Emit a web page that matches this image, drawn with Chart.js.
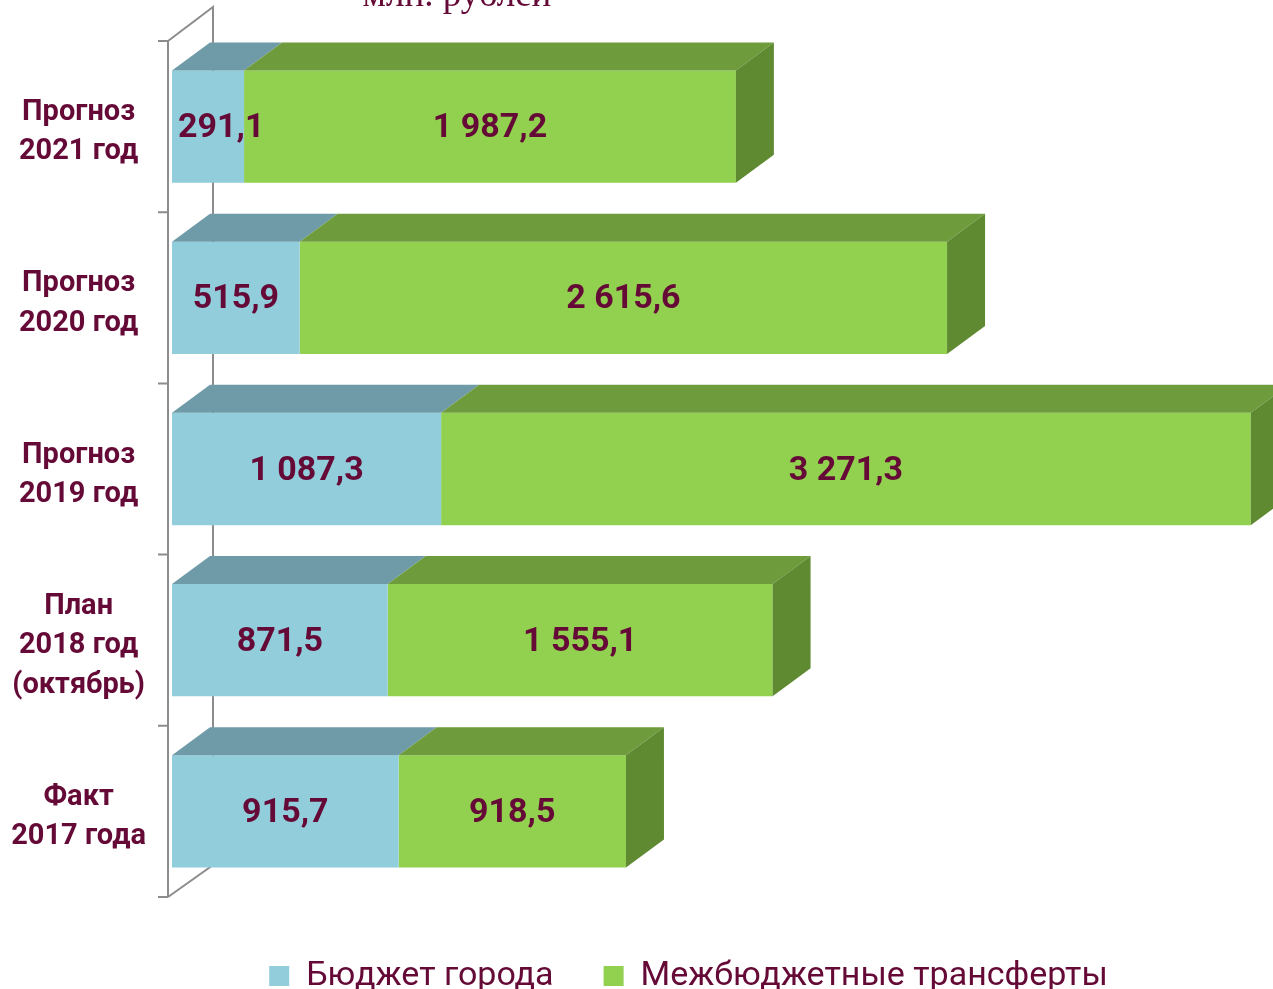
<!DOCTYPE html>
<html lang="ru">
<head>
  <meta charset="UTF-8" />
  <title>Бюджет города и межбюджетные трансферты</title>
  <script src="https://cdn.jsdelivr.net/npm/chart.js"></script>
  <style>
    html, body { margin: 0; padding: 0; background: #fff; }
    #wrap { width: 1273px; height: 989px; position: relative; }
  </style>
</head>
<body>
  <div id="wrap"><canvas id="chart"></canvas></div>

  <script>
    const categories = [
      ['Прогноз', '2021 год'],
      ['Прогноз', '2020 год'],
      ['Прогноз', '2019 год'],
      ['План', '2018 год', '(октябрь)'],
      ['Факт', '2017 года']
    ];
    const cityBudget = [291.1, 515.9, 1087.3, 871.5, 915.7];
    const transfers = [1987.2, 2615.6, 3271.3, 1555.1, 918.5];
    const seriesNames = ['Бюджет города', 'Межбюджетные трансферты'];
    const unitLabel = 'млн. рублей';

    const maroon = '#650a36';
    const front = ['#92cddc', '#92d050'];
    const topFace = ['#6f9ba8', '#6e9c3c'];
    const sideFace = '#5f8a32';
    const depthX = 38, depthY = 28;

    function fmt(v) {
      const parts = v.toFixed(1).split('.');
      const int = parts[0].replace(/\B(?=(\d{3})+(?!\d))/g, ' ');
      return int + ',' + parts[1];
    }

    // walls, 3d faces, labels
    const bars3d = {
      id: 'bars3d',
      afterLayout(chart) {
        chart.legend.left += 58;
        chart.legend.right += 58;
        chart.legend.top += 12;
        chart.legend.bottom += 12;
      },
      beforeDatasetsDraw(chart) {
        const ctx = chart.ctx;
        const a = chart.chartArea;
        const L = a.left - 4;
        ctx.save();
        ctx.strokeStyle = '#8c8c8c';
        ctx.lineWidth = 2;
        ctx.beginPath();
        ctx.moveTo(L, a.top);
        ctx.lineTo(L, a.bottom);
        ctx.moveTo(L, a.top);
        ctx.lineTo(L + 45, a.top - 34);
        ctx.lineTo(L + 45, a.bottom - 32);
        ctx.lineTo(L, a.bottom);
        const n = categories.length;
        for (let i = 0; i <= n; i++) {
          const y = a.top + (a.bottom - a.top) * i / n;
          ctx.moveTo(L - 10, y);
          ctx.lineTo(L, y);
        }
        ctx.stroke();

        ctx.fillStyle = maroon;
        ctx.font = '37px "Liberation Serif", serif';
        ctx.textAlign = 'center';
        ctx.textBaseline = 'alphabetic';
        ctx.fillText(unitLabel, 457, 6);
        ctx.restore();
      },
      afterDatasetsDraw(chart) {
        const ctx = chart.ctx;
        ctx.save();
        const metas = chart.data.datasets.map((d, i) => chart.getDatasetMeta(i));
        metas.forEach((meta, di) => {
          meta.data.forEach((el) => {
            const p = el.getProps(['x', 'y', 'base', 'height'], true);
            const x0 = Math.min(p.base, p.x), x1 = Math.max(p.base, p.x);
            const top = p.y - p.height / 2, bottom = p.y + p.height / 2;
            ctx.fillStyle = topFace[di];
            ctx.beginPath();
            ctx.moveTo(x0, top);
            ctx.lineTo(x0 + depthX, top - depthY);
            ctx.lineTo(x1 + depthX, top - depthY);
            ctx.lineTo(x1, top);
            ctx.closePath();
            ctx.fill();
            if (di === metas.length - 1) {
              ctx.fillStyle = sideFace;
              ctx.beginPath();
              ctx.moveTo(x1, top);
              ctx.lineTo(x1 + depthX, top - depthY);
              ctx.lineTo(x1 + depthX, bottom - depthY);
              ctx.lineTo(x1, bottom);
              ctx.closePath();
              ctx.fill();
            }
          });
        });
        ctx.fillStyle = maroon;
        ctx.font = 'bold 34px Roboto, sans-serif';
        ctx.textBaseline = 'middle';
        metas.forEach((meta, di) => {
          meta.data.forEach((el, i) => {
            const p = el.getProps(['x', 'y', 'base'], true);
            const txt = fmt(chart.data.datasets[di].data[i]);
            const x0 = Math.min(p.base, p.x), w = Math.abs(p.x - p.base);
            if (ctx.measureText(txt).width > w - 12) {
              ctx.textAlign = 'left';
              ctx.fillText(txt, x0 + 6, p.y + 2);
            } else {
              ctx.textAlign = 'center';
              ctx.fillText(txt, x0 + w / 2, p.y + 2);
            }
          });
        });
        ctx.restore();
      }
    };

    new Chart(document.getElementById('chart'), {
      type: 'bar',
      data: {
        labels: categories,
        datasets: [
          { label: seriesNames[0], data: cityBudget, backgroundColor: front[0] },
          { label: seriesNames[1], data: transfers, backgroundColor: front[1] }
        ]
      },
      options: {
        indexAxis: 'y',
        responsive: true,
        maintainAspectRatio: false,
        animation: false,
        datasets: {
          bar: { categoryPercentage: 1, barPercentage: 0.656, borderWidth: 0 }
        },
        layout: { padding: { top: 41, right: 12, left: 0, bottom: -2 } },
        scales: {
          x: {
            stacked: true,
            min: 0,
            max: 4400,
            display: false
          },
          y: {
            stacked: true,
            grid: { display: false },
            border: { display: false },
            ticks: {
              color: maroon,
              font: { family: 'Roboto', weight: 'bold', size: 29, lineHeight: 1.35 },
              crossAlign: 'center',
              padding: 18,
              labelOffset: 6
            },
            afterFit(scale) {
              scale.width = 172;
              scale.paddingTop = 0;
              scale.paddingBottom = 0;
            }
          }
        },
        plugins: {
          tooltip: { enabled: false },
          legend: {
            position: 'bottom',
            labels: {
              color: maroon,
              font: { family: 'Roboto', size: 34 },
              boxWidth: 20,
              boxHeight: 20,
              padding: 50
            }
          }
        }
      },
      plugins: [bars3d]
    });
  </script>
</body>
</html>
